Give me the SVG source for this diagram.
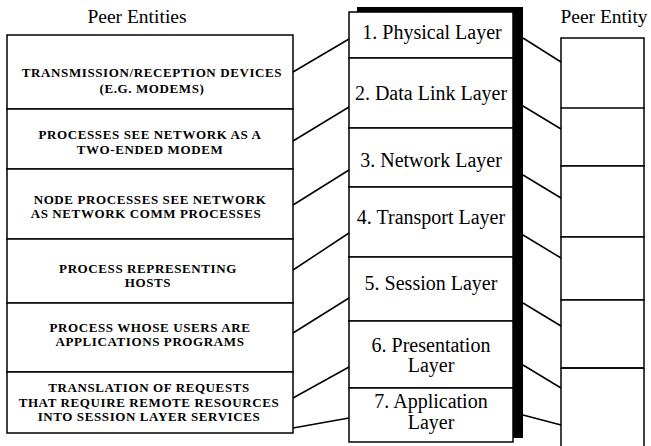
<svg xmlns="http://www.w3.org/2000/svg" width="651" height="446" viewBox="0 0 651 446">
<style>
.box{fill:#fff;stroke:#000;stroke-width:1.5}
.ln{stroke:#000;stroke-width:1.5;fill:none}
.cap{font-family:"Liberation Serif",serif;font-weight:bold;font-size:13px;letter-spacing:0.6px;text-anchor:middle;fill:#000}
.lay{font-family:"Liberation Serif",serif;font-size:20px;text-anchor:middle;fill:#000}
.hdr{font-family:"Liberation Serif",serif;font-size:19.5px;text-anchor:middle;fill:#000}
</style>
<rect width="651" height="446" fill="#fff"/>
<text class="hdr" x="137" y="23">Peer Entities</text>
<text class="hdr" x="604" y="23">Peer Entity</text>

<g id="peer-entities">
<g id="pe1"><rect class="box" x="7" y="35" width="286" height="74"/>
<text class="cap" x="152" y="77">TRANSMISSION/RECEPTION  DEVICES</text>
<text class="cap" x="152" y="93">(E.G.  MODEMS)</text></g>
<g id="pe2"><rect class="box" x="7" y="109" width="286" height="60"/>
<text class="cap" x="150" y="139">PROCESSES SEE NETWORK AS A</text>
<text class="cap" x="150" y="154">TWO-ENDED MODEM</text></g>
<g id="pe3"><rect class="box" x="7" y="169" width="286" height="70"/>
<text class="cap" x="150" y="204">NODE PROCESSES SEE NETWORK</text>
<text class="cap" x="146" y="218">AS NETWORK COMM PROCESSES</text></g>
<g id="pe4"><rect class="box" x="7" y="239" width="286" height="64"/>
<text class="cap" x="148" y="273">PROCESS  REPRESENTING</text>
<text class="cap" x="148" y="287">HOSTS</text></g>
<g id="pe5"><rect class="box" x="7" y="303" width="286" height="69"/>
<text class="cap" x="150" y="332">PROCESS WHOSE USERS ARE</text>
<text class="cap" x="150" y="346">APPLICATIONS PROGRAMS</text></g>
<g id="pe6"><rect class="box" x="7" y="372" width="286" height="61"/>
<text class="cap" x="149" y="392">TRANSLATION OF REQUESTS</text>
<text class="cap" x="149" y="407">THAT REQUIRE REMOTE RESOURCES</text>
<text class="cap" x="149" y="421">INTO SESSION LAYER SERVICES</text></g>
</g>

<g id="layers">
<rect id="shadow" x="357" y="7" width="166" height="431" fill="#000"/>
<g id="l1"><rect class="box" x="349" y="12" width="164" height="46"/>
<text class="lay" x="432" y="39">1. Physical Layer</text></g>
<g id="l2"><rect class="box" x="349" y="58" width="164" height="70"/>
<text class="lay" x="431" y="100">2. Data Link Layer</text></g>
<g id="l3"><rect class="box" x="349" y="128" width="164" height="59"/>
<text class="lay" x="431" y="167">3. Network Layer</text></g>
<g id="l4"><rect class="box" x="349" y="187" width="164" height="70"/>
<text class="lay" x="431" y="224">4. Transport Layer</text></g>
<g id="l5"><rect class="box" x="349" y="257" width="164" height="64"/>
<text class="lay" x="431" y="290">5. Session Layer</text></g>
<g id="l6"><rect class="box" x="349" y="321" width="164" height="67"/>
<text class="lay" x="431" y="352">6. Presentation</text>
<text class="lay" x="431" y="372">Layer</text></g>
<g id="l7"><rect class="box" x="349" y="388" width="164" height="54"/>
<text class="lay" x="431" y="408">7. Application</text>
<text class="lay" x="431" y="429">Layer</text></g>
</g>

<g id="peer-entity">
<g id="pr1"><path class="ln" d="M561,108 V38 H644 V108"/></g>
<g id="pr2"><rect class="box" x="561" y="108" width="83" height="58"/></g>
<g id="pr3"><rect class="box" x="561" y="166" width="83" height="71"/></g>
<g id="pr4"><rect class="box" x="561" y="237" width="83" height="63"/></g>
<g id="pr5"><rect class="box" x="561" y="300" width="83" height="68"/></g>
<g id="pr6"><path class="ln" d="M561,368 H644 M561,368 V446 M644,368 V446"/></g>
</g>

<g id="connectors" class="ln">
<line x1="293" y1="72" x2="349" y2="39"/>
<line x1="293" y1="141" x2="349" y2="107"/>
<line x1="293" y1="205" x2="349" y2="170"/>
<line x1="293" y1="270" x2="349" y2="233"/>
<line x1="293" y1="333" x2="349" y2="298"/>
<line x1="293" y1="398" x2="349" y2="367"/>
<line x1="293" y1="428" x2="349" y2="418"/>
<line x1="523" y1="38" x2="561" y2="62"/>
<line x1="523" y1="106" x2="561" y2="129"/>
<line x1="523" y1="175" x2="561" y2="198"/>
<line x1="523" y1="235" x2="561" y2="258"/>
<line x1="523" y1="303" x2="561" y2="326"/>
<line x1="523" y1="365" x2="561" y2="388"/>
<line x1="523" y1="415" x2="561" y2="425"/>
</g>
</svg>
